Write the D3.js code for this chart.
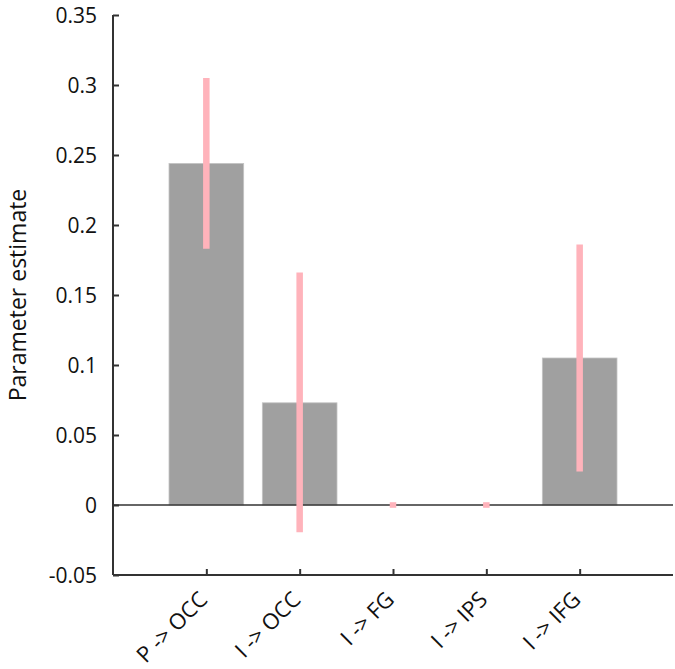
<!DOCTYPE html>
<html>
<head>
<meta charset="utf-8">
<script src="https://cdn.jsdelivr.net/npm/d3@7"></script>
<style>
  body { margin: 0; background: #fff; }
  text { font-family: "Open Sans", "Noto Sans", sans-serif; fill: #111; }
</style>
</head>
<body>
<svg id="chart" width="675" height="669"></svg>
<script>
// connection names and estimates
var labels = ["P -> OCC", "I -> OCC", "I -> FG", "I -> IPS", "I -> IFG"];
var estimates = [0.244, 0.073, 0, 0, 0.105];
var errLow = [0.183, -0.0195, -0.002, -0.002, 0.024];
var errHigh = [0.305, 0.166, 0.002, 0.002, 0.186];
var yTicks = [-0.05, 0, 0.05, 0.1, 0.15, 0.2, 0.25, 0.3, 0.35];

var svg = d3.select("#chart");
var plotLeft = 113, plotRight = 673, plotTop = 15, plotBottom = 575;

// bars sit at 1..5 on a 0..6 axis
var x = d3.scaleLinear().domain([0, 6]).range([plotLeft, plotRight]);
var y = d3.scaleLinear().domain([-0.05, 0.35]).range([plotBottom, plotTop]);
var barW = x(0.8) - x(0);

// bars
svg.selectAll("rect.bar").data(estimates).enter().append("rect")
    .attr("class", "bar")
    .attr("x", function(d, i){ return x(i + 1) - barW / 2; })
    .attr("width", barW)
    .attr("y", function(d){ return y(Math.max(d, 0)); })
    .attr("height", function(d){ return Math.abs(y(d) - y(0)); })
    .style("fill", "#a0a0a0")
    .style("stroke", "#c4c4c4")
    .style("stroke-width", 0.8);

// zero line
svg.append("line")
    .attr("x1", plotLeft).attr("x2", plotRight)
    .attr("y1", y(0)).attr("y2", y(0))
    .style("stroke", "#333").style("stroke-width", 1.6);

// error bars (pink, no caps)
svg.selectAll("line.err").data(estimates).enter().append("line")
    .attr("class", "err")
    .attr("x1", function(d, i){ return x(i + 1); })
    .attr("x2", function(d, i){ return x(i + 1); })
    .attr("y1", function(d, i){ return y(errLow[i]); })
    .attr("y2", function(d, i){ return y(errHigh[i]); })
    .style("stroke", "#ffb3bb").style("stroke-width", 6.5);

// y axis
var yAxis = d3.axisLeft(y).tickValues(yTicks)
    .tickSize(-6).tickPadding(16)
    .tickFormat(function(d){ return String(+d.toFixed(2)); });
var gy = svg.append("g").attr("transform", "translate(" + plotLeft + ",0)").call(yAxis);
gy.select(".domain").attr("d", "M0," + plotTop + "V" + plotBottom).style("stroke", "#333").style("stroke-width", 2);
gy.selectAll(".tick line").style("stroke", "#333").style("stroke-width", 2);
gy.selectAll(".tick text").style("font-size", "21px").attr("dy", "0.35em");

// x axis
var xAxis = d3.axisBottom(x).tickValues([1, 2, 3, 4, 5])
    .tickSize(-6).tickPadding(10)
    .tickFormat(function(d){ return labels[d - 1]; });
var gx = svg.append("g").attr("transform", "translate(0," + plotBottom + ")").call(xAxis);
gx.select(".domain").attr("d", "M" + plotLeft + ",0H" + plotRight).style("stroke", "#333").style("stroke-width", 2);
gx.selectAll(".tick line").style("stroke", "#333").style("stroke-width", 2);
gx.selectAll(".tick text")
    .style("font-size", "22px")
    .style("text-anchor", "end")
    .attr("x", 0).attr("y", 0).attr("dy", 0)
    .attr("transform", "translate(2,26) rotate(-45)");

// y label
svg.append("text")
    .attr("transform", "translate(26," + y(0.15) + ") rotate(-90)")
    .style("text-anchor", "middle")
    .style("font-size", "23px")
    .text("Parameter estimate");
</script>
</body>
</html>
